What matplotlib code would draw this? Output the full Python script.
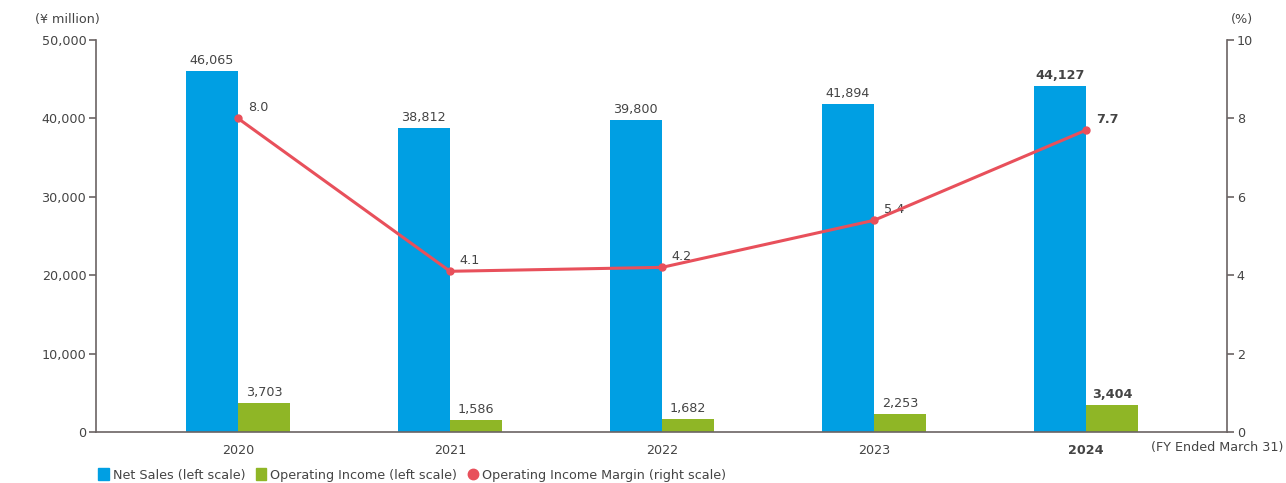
import matplotlib
matplotlib.use("Agg")
import matplotlib.pyplot as plt
from matplotlib.patches import Patch
from matplotlib.lines import Line2D
import numpy as np

years = ["2020", "2021", "2022", "2023", "2024"]
net_sales = [46065, 38812, 39800, 41894, 44127]
operating_income = [3703, 1586, 1682, 2253, 3404]
op_margin = [8.0, 4.1, 4.2, 5.4, 7.7]

BLUE = "#009FE3"
GREEN = "#8FB626"
RED = "#E8505B"
TXT = "#444444"
AX = "#6b6464"
FS = 9.2

plt.rcParams["font.family"] = ["Liberation Sans Narrow", "DejaVu Sans"]

fig = plt.figure(figsize=(12.86, 4.83), dpi=100)
ax = fig.add_axes([96 / 1286, 1 - 432 / 483, (1227 - 96) / 1286, (432 - 40) / 483])
ax2 = ax.twinx()

x = np.arange(len(years))
w = 0.247
ax.bar(x - w / 2, net_sales, w, color=BLUE, zorder=2)
ax.bar(x + w / 2, operating_income, w, color=GREEN, zorder=2)

ax.set_xlim(-0.67, 4.665)
ax.set_ylim(0, 50000)
ax.set_yticks(np.arange(0, 50001, 10000))
ax.set_yticklabels([f"{v:,}" for v in range(0, 50001, 10000)])
ax2.set_ylim(0, 10)
ax2.set_yticks(np.arange(0, 11, 2))

ax.set_xticks(x)
ax.set_xticklabels(years)
for i, lab in enumerate(ax.get_xticklabels()):
    lab.set_fontweight("bold" if i == len(years) - 1 else "normal")

for a in (ax, ax2):
    a.spines["top"].set_visible(False)
    for s in ("left", "right", "bottom"):
        a.spines[s].set_color(AX)
        a.spines[s].set_linewidth(1.2)
    a.tick_params(axis="y", colors=AX, labelcolor=TXT, labelsize=FS, length=5, width=1.2, pad=2)
ax.spines["right"].set_visible(False)
ax2.spines["left"].set_visible(False)
ax2.spines["bottom"].set_visible(False)
ax.tick_params(axis="x", length=0, labelsize=FS, labelcolor=TXT, pad=9)

ax2.plot(x, op_margin, color=RED, lw=2.2, marker="o", ms=5, zorder=5)
ax.set_zorder(ax2.get_zorder() - 1)
ax2.patch.set_visible(False)

last = len(years) - 1
for i in range(len(years)):
    wt = "bold" if i == last else "normal"
    ax.text(x[i] - w / 2, net_sales[i] + 500, f"{net_sales[i]:,}", ha="center", va="bottom",
            fontsize=FS, color=TXT, fontweight=wt)
    ax.text(x[i] + w / 2, operating_income[i] + 500, f"{operating_income[i]:,}", ha="center",
            va="bottom", fontsize=FS, color=TXT, fontweight=wt)
    ax2.annotate(f"{op_margin[i]:.1f}", (x[i], op_margin[i]), xytext=(7, 3),
                 textcoords="offset points", ha="left", va="bottom", fontsize=FS,
                 color=TXT, fontweight=wt)

fig.text(35 / 1286, 1 - 19 / 483, "(¥ million)", ha="left", va="center", fontsize=FS, color=TXT)
fig.text(1242 / 1286, 1 - 19 / 483, "(%)", ha="center", va="center", fontsize=FS, color=TXT)
fig.text(1283 / 1286, 1 - 448 / 483, "(FY Ended March 31)", ha="right", va="center",
         fontsize=FS, color=TXT)

handles = [
    Patch(color=BLUE, label="Net Sales (left scale)"),
    Patch(color=GREEN, label="Operating Income (left scale)"),
    Line2D([], [], color=RED, marker="o", ls="", ms=7.5, label="Operating Income Margin (right scale)"),
]
fig.legend(handles=handles, loc="center left", bbox_to_anchor=(93 / 1286, 1 - 475 / 483),
           ncol=3, frameon=False, fontsize=FS, labelcolor=TXT, handlelength=0.85,
           handleheight=1.0, handletextpad=0.3, columnspacing=0.8, borderaxespad=0)

fig.savefig("out.png", dpi=100)
